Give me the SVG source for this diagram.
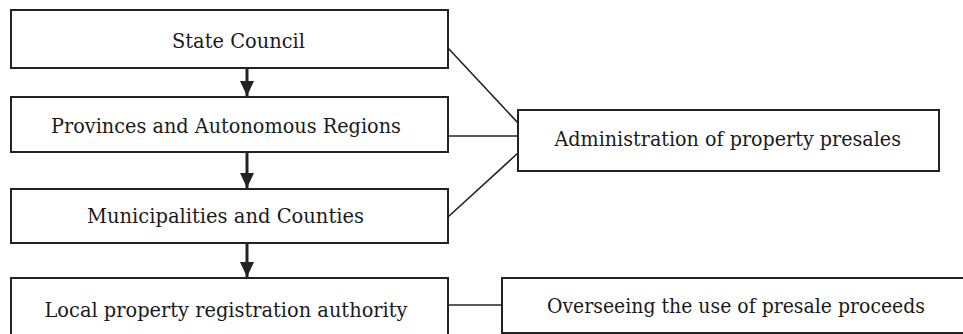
<svg xmlns="http://www.w3.org/2000/svg" width="963" height="334" viewBox="0 0 963 334">
<style>
.box{fill:#fff;stroke:#222;stroke-width:2}
.t{font-family:"DejaVu Serif","Liberation Serif",serif;font-size:20px;fill:#1a1a1a}
.c{stroke:#222;stroke-width:1.6;fill:none}
.a{stroke:#222;stroke-width:3;fill:none}
</style>
<defs>
<marker id="ah" markerUnits="userSpaceOnUse" markerWidth="15" markerHeight="14" viewBox="0 0 15 14" refX="15" refY="7" orient="auto">
<path d="M0,0 L15,7 L0,14 z" fill="#222"/>
</marker>
</defs>
<rect width="963" height="334" fill="#fff"/>
<g id="connectors">
<line class="a" x1="247" y1="68" x2="247" y2="96" marker-end="url(#ah)"/>
<line class="a" x1="247" y1="152" x2="247" y2="188" marker-end="url(#ah)"/>
<line class="a" x1="247" y1="243" x2="247" y2="277" marker-end="url(#ah)"/>
<line class="c" x1="448" y1="48" x2="518" y2="123"/>
<line class="c" x1="448" y1="136" x2="518" y2="136"/>
<line class="c" x1="448" y1="217" x2="518" y2="153"/>
<line class="c" x1="448" y1="305" x2="502" y2="305"/>
</g>
<g id="state-council">
<rect class="box" x="11" y="10" width="437" height="58"/>
<text class="t" x="172" y="47.5" textLength="133" lengthAdjust="spacingAndGlyphs">State Council</text>
</g>
<g id="provinces">
<rect class="box" x="11" y="97" width="437" height="55"/>
<text class="t" x="51" y="133" textLength="350" lengthAdjust="spacingAndGlyphs">Provinces and Autonomous Regions</text>
</g>
<g id="municipalities">
<rect class="box" x="11" y="189" width="437" height="54"/>
<text class="t" x="87" y="222.5" textLength="277" lengthAdjust="spacingAndGlyphs">Municipalities and Counties</text>
</g>
<g id="local-authority">
<rect class="box" x="11" y="278" width="437" height="64"/>
<text class="t" x="44.5" y="317" textLength="363" lengthAdjust="spacingAndGlyphs">Local property registration authority</text>
</g>
<g id="administration">
<rect class="box" x="518" y="110" width="421" height="61"/>
<text class="t" x="554.5" y="146" textLength="346.5" lengthAdjust="spacingAndGlyphs">Administration of property presales</text>
</g>
<g id="overseeing">
<rect class="box" x="502" y="278" width="480" height="55"/>
<text class="t" x="547" y="312.5" textLength="378" lengthAdjust="spacingAndGlyphs">Overseeing the use of presale proceeds</text>
</g>
</svg>
